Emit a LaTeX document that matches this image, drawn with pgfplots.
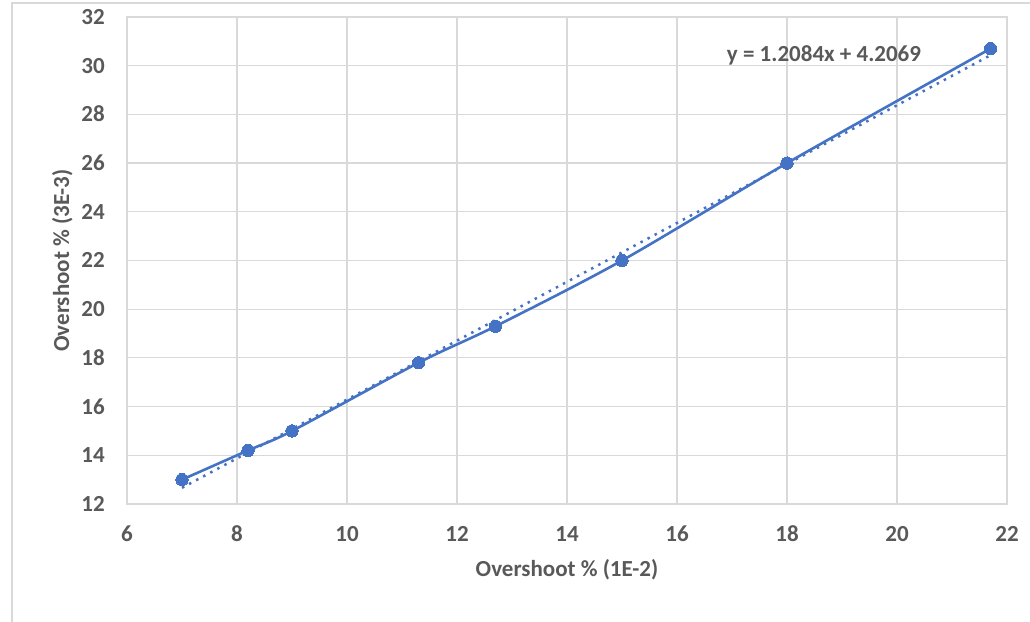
\documentclass[border=0pt]{standalone}
\usepackage{fontspec}
\setmainfont{Carlito}
\usepackage{pgfplots}
\pgfplotsset{compat=1.18}
\definecolor{txt}{HTML}{595959}
\definecolor{grd}{HTML}{D9D9D9}
\definecolor{ser}{HTML}{4472C4}
\begin{document}
\begin{tikzpicture}
\useasboundingbox (0,0) rectangle (1030bp,622bp);
\draw[grd, line width=1.2bp] (12bp,0) -- (12bp,619bp) -- (1030bp,619bp);
\begin{axis}[
  at={(127bp,118bp)}, anchor=south west,
  scale only axis, width=880bp, height=487bp,
  xmin=6, xmax=22, ymin=12, ymax=32,
  xtick={6,8,...,22}, ytick={12,14,...,32},
  grid=major, grid style={grd, line width=1.2bp},
  axis line style={grd, line width=1.2bp},
  major tick length=0pt,
  tick label style={font=\fontsize{23bp}{28bp}\selectfont\bfseries, text=txt, inner sep=0pt},
  /pgf/number format/assume math mode=true,
  xticklabel style={anchor=base, yshift=-38bp},
  yticklabel style={anchor=base east, xshift=-22bp, yshift=-7.5bp},
  clip=false,
]
\addplot[ser, line width=2.6bp, smooth, tension=0.5, mark=*, mark size=6.2bp,
  mark options={solid, fill=ser, draw=ser, line width=0pt}]
  coordinates {(7,13) (8.2,14.2) (9,15) (11.3,17.8) (12.7,19.3) (15,22) (18,26) (21.7,30.7)};
\addplot[ser, line width=2.5bp, dash pattern=on 2.5bp off 5.5bp, no marks]
  coordinates {(7,12.6657) (21.7,30.4292)};
\end{axis}
\node[anchor=base, text=txt, font=\fontsize{23bp}{28bp}\selectfont\bfseries] at (567bp,45bp) {Overshoot \% (1E-2)};
\node[anchor=base, rotate=90, text=txt, font=\fontsize{23bp}{28bp}\selectfont\bfseries] at (69bp,361.5bp) {Overshoot \% (3E-3)};
\node[anchor=base, text=txt, font=\fontsize{23bp}{28bp}\selectfont\bfseries] at (824bp,560bp) {y = 1.2084x + 4.2069};
\end{tikzpicture}
\end{document}
